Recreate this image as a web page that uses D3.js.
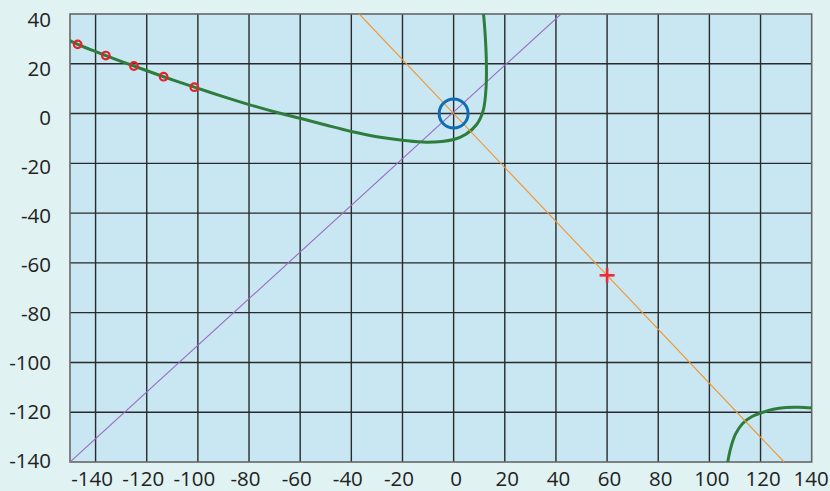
<!DOCTYPE html>
<html><head><meta charset="utf-8">
<script src="https://cdn.jsdelivr.net/npm/d3@7"></script>
<style>
html,body{margin:0;padding:0;background:#e0f2f2;}
svg{display:block;}
text{font-family:"Open Sans",sans-serif;font-size:20.5px;fill:#222;}
</style></head>
<body>
<svg id="chart" width="830" height="491"></svg>
<script>
// ---- data ----
const xTicks = [-140,-120,-100,-80,-60,-40,-20,0,20,40,60,80,100,120,140];
const yTicks = [40,20,0,-20,-40,-60,-80,-100,-120,-140];
const purpleLine = [[-150,-140],[42,40]];
const orangeLine = [[-36.9,40],[129.2,-140]];
const greenLeft = [
  [-151,29.8],[-147,27.8],[-136,23.3],[-125,19.1],[-113.4,14.8],[-101.4,10.6],
  [-91,7.1],[-80,3.6],[-67.5,0],[-60,-1.9],[-50,-4.6],[-40,-7.2],[-30,-9.3],
  [-20,-10.7],[-10.5,-11.5],[0,-10.4],[4.8,-8.3],[9.0,-4.4],[11.6,1.4],[12.7,10.8],
  [12.8,20.5],[12.3,32.2],[11.6,41]
];
const greenRight = [
  [107,-141],[108.3,-134.5],[110.2,-128.8],[113,-124.5],[116.5,-121.8],
  [120.4,-120.2],[125,-118.8],[130,-118.1],[135,-118.0],[141,-118.4]
];
const redCircles = [[-147,27.8],[-136,23.3],[-125,19.1],[-113.4,14.8],[-101.4,10.6]];
const blueCircle = [[0,0]];
const redCross = [[60,-65]];

// ---- layout ----
const svg = d3.select("#chart");
const L = 70, R = 811.7, T = 14, B = 462;
const x = d3.scaleLinear().domain([-150,140]).range([L,R]);
const y = d3.scaleLinear().domain([40,-140]).range([T,B]);
const yLab = d3.scaleLinear().domain([40,-140]).range([20,460.7]);

svg.append("defs").append("clipPath").attr("id","clip")
  .append("rect").attr("x",L).attr("y",T).attr("width",R-L).attr("height",B-T);

svg.append("rect").attr("x",L).attr("y",T).attr("width",R-L).attr("height",B-T)
  .attr("fill","#c8e7f2");

const grid = svg.append("g");
grid.selectAll("line.v").data(xTicks.filter(v=>v<140)).enter().append("line")
  .attr("x1",d=>x(d)).attr("x2",d=>x(d)).attr("y1",T).attr("y2",B)
  .attr("stroke","#2a2a2a").attr("stroke-width",1.4);
grid.selectAll("line.h").data(yTicks.filter(v=>v<40 && v>-140)).enter().append("line")
  .attr("x1",L).attr("x2",R).attr("y1",d=>y(d)).attr("y2",d=>y(d))
  .attr("stroke","#2a2a2a").attr("stroke-width",1.4);

svg.append("rect").attr("x",L).attr("y",T).attr("width",R-L).attr("height",B-T)
  .attr("fill","none").attr("stroke","#666").attr("stroke-width",1.6);

const plot = svg.append("g").attr("clip-path","url(#clip)");
const line = d3.line().x(d=>x(d[0])).y(d=>y(d[1]));
const curve = d3.line().x(d=>x(d[0])).y(d=>y(d[1])).curve(d3.curveCatmullRom.alpha(0.5));

plot.append("path").datum(purpleLine).attr("d",line)
  .attr("fill","none").attr("stroke","#9b6cc4").attr("stroke-width",1.1);
plot.append("path").datum(greenLeft).attr("d",curve)
  .attr("fill","none").attr("stroke","#2e7d3c").attr("stroke-width",3);
plot.append("path").datum(greenRight).attr("d",curve)
  .attr("fill","none").attr("stroke","#2e7d3c").attr("stroke-width",3);
plot.append("path").datum(orangeLine).attr("d",line)
  .attr("fill","none").attr("stroke","#f39530").attr("stroke-width",1.1);

plot.selectAll("circle.red").data(redCircles).enter().append("circle")
  .attr("cx",d=>x(d[0])).attr("cy",d=>y(d[1])).attr("r",3.8)
  .attr("fill","none").attr("stroke","#e8202a").attr("stroke-width",2.2);

plot.selectAll("circle.blue").data(blueCircle).enter().append("circle")
  .attr("cx",d=>x(d[0])).attr("cy",d=>y(d[1])).attr("r",14.5)
  .attr("fill","none").attr("stroke","#0f6db5").attr("stroke-width",3);

const cross = plot.selectAll("g.cross").data(redCross).enter().append("g")
  .attr("transform",d=>`translate(${x(d[0])},${y(d[1])})`);
cross.append("line").attr("x1",-7.5).attr("x2",7.5).attr("y1",0).attr("y2",0)
  .attr("stroke","#ee2a36").attr("stroke-width",2.6);
cross.append("line").attr("x1",0).attr("x2",0).attr("y1",-7.5).attr("y2",7.5)
  .attr("stroke","#ee2a36").attr("stroke-width",2.6);

// labels
svg.selectAll("text.y").data(yTicks).enter().append("text")
  .attr("x",51).attr("y",d=>yLab(d)).attr("dy","0.35em")
  .attr("text-anchor","end").text(d=>d);
svg.selectAll("text.x").data(xTicks).enter().append("text")
  .attr("x",d=>x(d) + (d<0 ? -3.5 : (d===140 ? -0.5 : 2.5)))
  .attr("y",486).attr("text-anchor","middle").text(d=>d);
</script>
</body></html>
